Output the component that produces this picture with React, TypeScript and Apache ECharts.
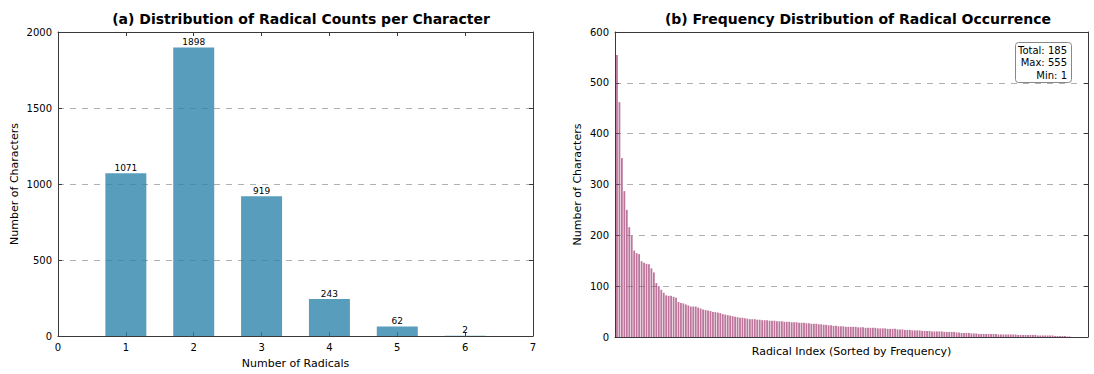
import React, { useEffect, useRef } from "react";
import * as echarts from "echarts";

const radicalCounts = [1, 2, 3, 4, 5, 6];
const characterCounts = [1071, 1898, 919, 243, 62, 2];

const radicalFrequencies = [
  555, 462, 352, 287, 250, 216, 199, 170, 165, 163,
  149, 146, 144, 143, 135, 127, 106, 100, 93, 87,
  82, 81, 81, 79, 77, 69, 67, 66, 64, 62,
  60, 60, 60, 58, 56, 54, 53, 52, 51, 49,
  49, 48, 47, 45, 44, 43, 42, 41, 40, 39,
  38, 38, 37, 36, 35, 35, 35, 34, 34, 33,
  33, 33, 32, 32, 32, 31, 31, 31, 30, 30,
  30, 29, 29, 29, 28, 28, 28, 27, 27, 26,
  26, 26, 25, 25, 24, 24, 23, 23, 22, 22,
  21, 21, 21, 20, 20, 20, 20, 20, 19, 19,
  19, 18, 18, 18, 18, 18, 17, 17, 17, 17,
  16, 16, 16, 16, 15, 15, 15, 14, 14, 14,
  13, 13, 13, 13, 12, 12, 12, 12, 11, 11,
  11, 11, 11, 10, 10, 10, 10, 10, 9, 9,
  8, 8, 8, 8, 7, 7, 7, 6, 6, 6,
  6, 6, 6, 6, 6, 5, 5, 5, 5, 5,
  5, 5, 5, 4, 4, 4, 4, 4, 4, 4,
  4, 3, 3, 3, 3, 3, 3, 3, 2, 2,
  2, 2, 2, 1, 1,
];

const titleA = "(a) Distribution of Radical Counts per Character";
const titleB = "(b) Frequency Distribution of Radical Occurrence";
const statsLines = [
  `Total: ${radicalFrequencies.length}`,
  `Max: ${Math.max(...radicalFrequencies)}`,
  `Min: ${Math.min(...radicalFrequencies)}`,
];

const FONT = "DejaVu Sans";
const AXIS_COLOR = "#3a3a3a";

export default function App() {
  const ref = useRef<HTMLDivElement>(null);

  useEffect(() => {
    if (!ref.current) return;
    const chart = echarts.init(ref.current, undefined, { renderer: "svg" });

    const lineStyle = { color: AXIS_COLOR, width: 1 };
    const tick = { show: true, inside: true, length: 4, lineStyle };
    const label = {
      color: "#000",
      fontSize: 10,
      fontFamily: FONT,
      formatter: (v: number) => String(v),
    };
    const gridLine = {
      show: true,
      lineStyle: { color: "#b0b0b0", type: [6, 6] as any, width: 1 },
    };

    const option: any = {
      animation: false,
      textStyle: { fontFamily: FONT },
      title: [
        {
          text: titleA,
          left: 296,
          top: 7,
          textAlign: "center",
          textStyle: { fontSize: 14, fontWeight: "bold", color: "#000", fontFamily: FONT },
        },
        {
          text: titleB,
          left: 853,
          top: 7,
          textAlign: "center",
          textStyle: { fontSize: 14, fontWeight: "bold", color: "#000", fontFamily: FONT },
        },
      ],
      grid: [
        { left: 58, right: 1094 - 533, top: 32, bottom: 374 - 337 },
        { left: 615, right: 1094 - 1088, top: 32, bottom: 374 - 337 },
      ],
      xAxis: [
        {
          gridIndex: 0,
          type: "value",
          min: 0,
          max: 7,
          interval: 1,
          position: "bottom",
          axisLine: { show: true, onZero: false, lineStyle },
          axisTick: tick,
          axisLabel: { ...label, margin: 6 },
          splitLine: { show: false },
          name: "Number of Radicals",
          nameLocation: "middle",
          nameGap: 22,
          nameTextStyle: { fontSize: 11, color: "#000", fontFamily: FONT },
        },
        {
          gridIndex: 0,
          type: "value",
          min: 0,
          max: 7,
          interval: 1,
          position: "top",
          axisLine: { show: true, onZero: false, lineStyle },
          axisTick: tick,
          axisLabel: { show: false },
          splitLine: { show: false },
        },
        {
          gridIndex: 1,
          type: "value",
          min: -0.8,
          max: 191.4,
          position: "bottom",
          axisLine: { show: true, onZero: false, lineStyle },
          axisTick: { show: false },
          axisLabel: { show: false },
          splitLine: { show: false },
          name: "Radical Index (Sorted by Frequency)",
          nameLocation: "middle",
          nameGap: 9,
          nameTextStyle: { fontSize: 11, color: "#000", fontFamily: FONT },
        },
        {
          gridIndex: 1,
          type: "value",
          min: -0.8,
          max: 191.4,
          position: "top",
          axisLine: { show: true, onZero: false, lineStyle },
          axisTick: { show: false },
          axisLabel: { show: false },
          splitLine: { show: false },
        },
      ],
      yAxis: [
        {
          gridIndex: 0,
          type: "value",
          min: 0,
          max: 2000,
          interval: 500,
          position: "left",
          axisLine: { show: true, onZero: false, lineStyle },
          axisTick: tick,
          axisLabel: { ...label, margin: 6 },
          splitLine: gridLine,
          name: "Number of Characters",
          nameLocation: "middle",
          nameGap: 38,
          nameTextStyle: { fontSize: 11, color: "#000", fontFamily: FONT },
        },
        {
          gridIndex: 0,
          type: "value",
          min: 0,
          max: 2000,
          interval: 500,
          position: "right",
          axisLine: { show: true, onZero: false, lineStyle },
          axisTick: tick,
          axisLabel: { show: false },
          splitLine: { show: false },
        },
        {
          gridIndex: 1,
          type: "value",
          min: 0,
          max: 600,
          interval: 100,
          position: "left",
          axisLine: { show: true, onZero: false, lineStyle },
          axisTick: tick,
          axisLabel: { ...label, margin: 6 },
          splitLine: gridLine,
          name: "Number of Characters",
          nameLocation: "middle",
          nameGap: 32,
          nameTextStyle: { fontSize: 11, color: "#000", fontFamily: FONT },
        },
        {
          gridIndex: 1,
          type: "value",
          min: 0,
          max: 600,
          interval: 100,
          position: "right",
          axisLine: { show: true, onZero: false, lineStyle },
          axisTick: tick,
          axisLabel: { show: false },
          splitLine: { show: false },
        },
      ],
      series: [
        {
          type: "bar",
          xAxisIndex: 0,
          yAxisIndex: 0,
          data: radicalCounts.map((r, i) => [r, characterCounts[i]]),
          barWidth: 41,
          itemStyle: { color: "rgba(46,134,171,0.8)" },
          label: {
            show: true,
            position: "top",
            distance: 1,
            fontSize: 9,
            color: "#000",
            fontFamily: FONT,
            formatter: (p: any) => String(p.value[1]),
          },
        },
        {
          type: "bar",
          xAxisIndex: 2,
          yAxisIndex: 2,
          data: radicalFrequencies.map((v, i) => [i, v]),
          barWidth: 1.8,
          itemStyle: { color: "rgba(162,59,114,0.7)" },
        },
      ],
      graphic: [
        {
          type: "rect",
          shape: { x: 1015.5, y: 42.5, width: 56, height: 40, r: 3 },
          style: { fill: "#fff", stroke: "#888", lineWidth: 1 },
          z: 100,
        },
        ...statsLines.map((t, i) => ({
          type: "text",
          x: 1067,
          y: 45 + i * 12.5,
          style: {
            text: t,
            textAlign: "right",
            textVerticalAlign: "top",
            fontSize: 10,
            fontFamily: FONT,
            fill: "#000",
          },
          z: 101,
        })),
      ],
    };

    chart.setOption(option);
    return () => chart.dispose();
  }, []);

  return (
    <div
      ref={ref}
      style={{ position: "fixed", left: 0, top: 0, width: 1094, height: 374, background: "#fff" }}
    />
  );
}
